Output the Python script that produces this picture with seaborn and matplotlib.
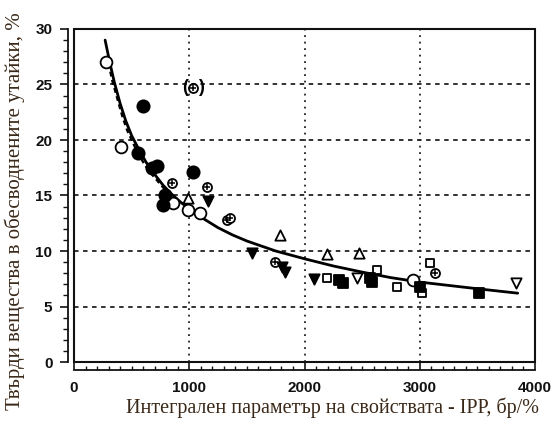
import matplotlib
matplotlib.use("Agg")
import matplotlib.pyplot as plt
import matplotlib.patches as mpatches
from matplotlib.ticker import MultipleLocator
import seaborn as sns

sns.set_theme(style="white")
plt.rcParams['font.family'] = ['Liberation Sans', 'DejaVu Sans']

# ---- data ----
open_circ_x = [280, 408, 860, 990, 1094, 2943]
open_circ_y = [27.0, 19.4, 14.3, 13.7, 13.4, 7.4]

fill_circ_x = [599, 556, 677, 720, 1033, 790, 773]
fill_circ_y = [23.1, 18.8, 17.5, 17.7, 17.1, 15.0, 14.1]

plus_circ_x = [851, 1155, 1328, 1354, 1745, 3134]
plus_circ_y = [16.1, 15.8, 12.8, 13.0, 9.0, 8.0]

outlier_x = [1033]
outlier_y = [24.7]

open_tri_up_x = [990, 1788, 2196, 2474]
open_tri_up_y = [14.8, 11.4, 9.7, 9.8]

fill_tri_dn_x = [1163, 1545, 1805, 1832, 2083]
fill_tri_dn_y = [14.5, 9.8, 8.6, 8.1, 7.5]

open_sq_x = [2196, 2630, 2804, 3021, 3090]
open_sq_y = [7.6, 8.3, 6.8, 6.2, 8.9]

fill_sq_x = [2300, 2335, 2570, 2587, 3003, 3516]
fill_sq_y = [7.4, 7.1, 7.6, 7.2, 6.8, 6.2]

open_tri_dn_x = [2457, 3837]
open_tri_dn_y = [7.6, 7.1]

curve_x = [270, 310, 350, 400, 450, 500, 550, 625, 700, 775, 850, 925, 1000, 1125,
           1250, 1375, 1500, 1750, 2000, 2250, 2500, 2750, 3000, 3250, 3500, 3850]
curve_y = [29.0, 27.0, 25.2, 23.3, 21.7, 20.4, 19.4, 18.0, 16.9, 15.9, 15.1, 14.4, 13.8, 12.9,
           12.1, 11.45, 10.9, 10.0, 9.3, 8.65, 8.1, 7.6, 7.2, 6.9, 6.6, 6.2]

dash_x = [300, 330, 360, 390, 420, 460, 500, 550, 600, 650, 700, 750, 800]
dash_y = [26.9, 25.4, 24.3, 23.2, 22.1, 20.9, 20.0, 18.9, 18.0, 17.2, 16.6, 16.0, 15.4]

xticks = [0, 1000, 2000, 3000, 4000]
yticks = [0, 5, 10, 15, 20, 25, 30]

xlabel = "Интегрален параметър на свойствата - IPP, бр/%"
ylabel = "Твърди вещества в обесводнените утайки, %"

# ---- figure ----
fig = plt.figure(figsize=(5.55, 4.23), dpi=100)
ax = fig.add_axes([74/555, 1-362/423, (535-74)/555, (362-29)/423])

ax.set_xlim(0, 4000)
ax.set_ylim(0, 30)

# grid
for gx in [1000, 2000, 3000]:
    ax.axvline(gx, color='#222222', lw=1.3, dashes=(1, 2.6), zorder=1)
for gy in [5, 10, 15, 20, 25]:
    ax.axhline(gy, color='#222222', lw=1.3, dashes=(2.5, 2.5), zorder=1)

# curves
sns.lineplot(x=curve_x, y=curve_y, ax=ax, color='black', lw=2.0, sort=False, zorder=4)
sns.lineplot(x=dash_x, y=dash_y, ax=ax, color='black', lw=1.6, sort=False,
             zorder=3).lines[-1].set_dashes((2.2, 1.6))

def scat(xs, ys, marker, filled, size=50, lw=1.3):
    sns.scatterplot(x=xs, y=ys, ax=ax, marker=marker, s=size,
                    color='black' if filled else 'white',
                    edgecolor='black', linewidth=lw, zorder=5)

scat(open_circ_x, open_circ_y, 'o', False, size=72)
scat(fill_circ_x, fill_circ_y, 'o', True, size=78)
scat(plus_circ_x, plus_circ_y, 'o', False, size=42)
sns.scatterplot(x=plus_circ_x, y=plus_circ_y, ax=ax, marker='+', s=22,
                color='black', linewidth=1.1, zorder=6)
scat(outlier_x, outlier_y, 'o', False, size=42)
sns.scatterplot(x=outlier_x, y=outlier_y, ax=ax, marker='+', s=22,
                color='black', linewidth=1.1, zorder=6)
ax.text(outlier_x[0] - 65, outlier_y[0], "(", ha='center', va='center',
        fontsize=13, fontweight='bold', color='black', zorder=6)
ax.text(outlier_x[0] + 65, outlier_y[0], ")", ha='center', va='center',
        fontsize=13, fontweight='bold', color='black', zorder=6)
scat(open_tri_up_x, open_tri_up_y, '^', False, size=55)
scat(fill_tri_dn_x, fill_tri_dn_y, 'v', True, size=55)
scat(open_sq_x, open_sq_y, 's', False, size=38)
scat(fill_sq_x, fill_sq_y, 's', True, size=42)
scat(open_tri_dn_x, open_tri_dn_y, 'v', False, size=55)

# frame
ax.add_patch(mpatches.Rectangle((0, 0), 1, 1, transform=ax.transAxes, fill=False,
                                lw=1.5, edgecolor='#111111', clip_on=False, zorder=7))
for s in ['top', 'right']:
    ax.spines[s].set_visible(False)
ax.spines['left'].set_position(('outward', 4.5))
ax.spines['bottom'].set_position(('outward', 6))
for s in ['left', 'bottom']:
    ax.spines[s].set_color('#111111')
    ax.spines[s].set_linewidth(1.3)

ax.set_xticks(xticks)
ax.set_yticks(yticks)
ax.xaxis.set_minor_locator(MultipleLocator(100))
ax.yaxis.set_minor_locator(MultipleLocator(1))
ax.tick_params(axis='y', which='major', direction='out', length=6, width=1.2,
               left=True, pad=5, labelsize=11, colors='#111111')
ax.tick_params(axis='y', which='minor', direction='out', length=3.5, width=1.0, left=True,
               colors='#111111')
ax.tick_params(axis='x', which='major', direction='in', length=6, width=1.2,
               bottom=True, pad=8, labelsize=11, colors='#111111')
ax.tick_params(axis='x', which='minor', direction='in', length=3, width=1.0, bottom=True,
               colors='#111111')
for lab in ax.get_xticklabels() + ax.get_yticklabels():
    lab.set_fontweight('bold')

ax.set_xlabel("")
ax.set_ylabel("")
fig.text(333/555, 1-408/423, xlabel, ha='center', va='center', fontsize=14.5,
         family=['Liberation Serif', 'DejaVu Serif'], color='#3a2818')
fig.text(15/555, 1-211/423, ylabel, ha='center', va='center', rotation=90, fontsize=15,
         family=['Liberation Serif', 'DejaVu Serif'], color='#3a2818')

fig.savefig("out.png", dpi=100)
